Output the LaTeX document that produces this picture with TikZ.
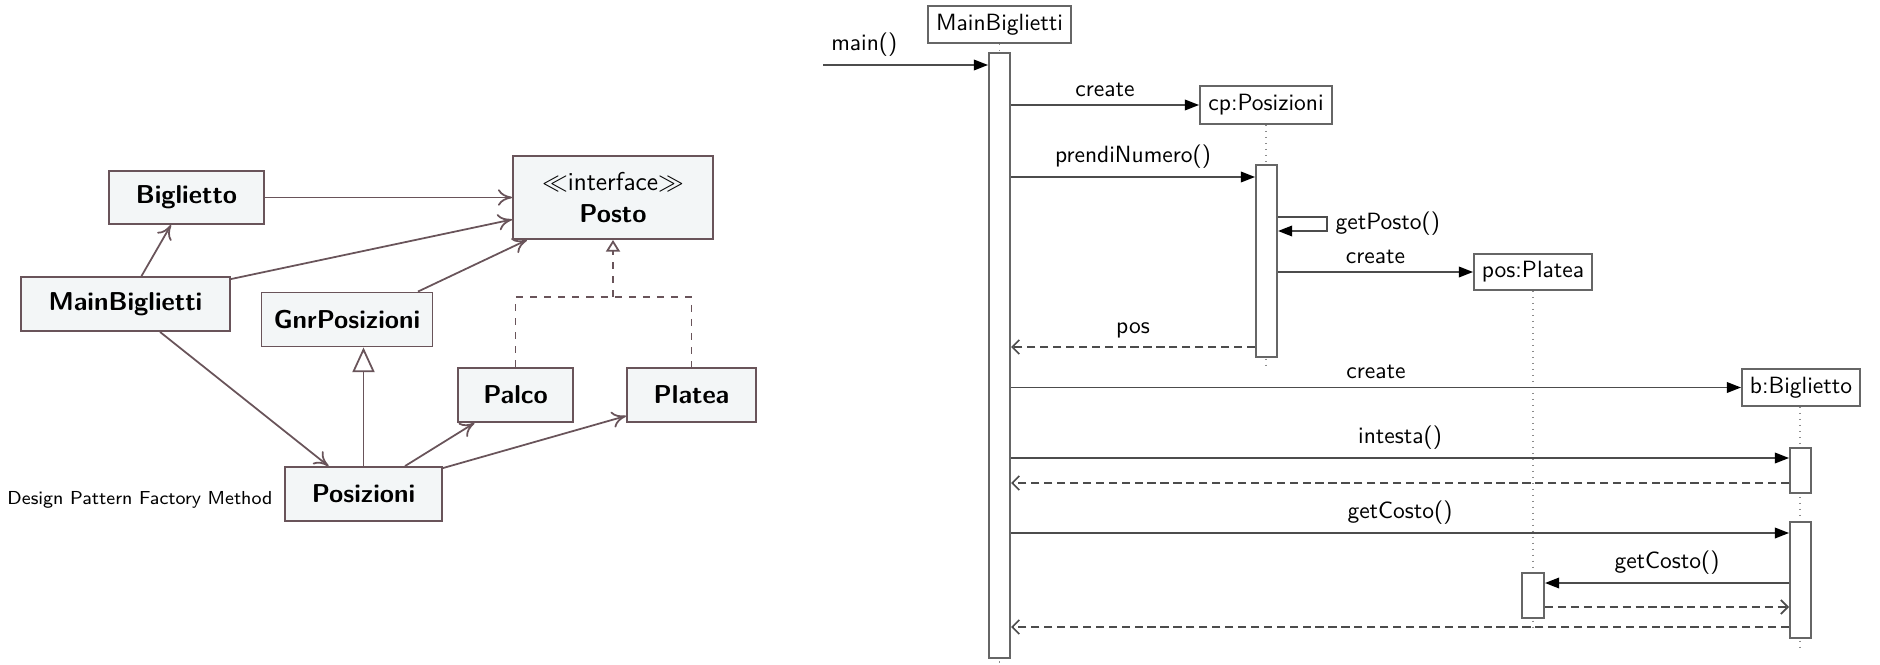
\documentclass[tikz,border=0pt]{standalone}
\usepackage{fontspec}
\usetikzlibrary{arrows.meta,calc}
\definecolor{umlline}{RGB}{105,84,90}
\definecolor{umlfill}{RGB}{243,246,247}
\newcommand\pxu{0.4255pt}
\begin{document}
\begin{tikzpicture}[x=\pxu, y=-\pxu,
  cls/.style={draw=umlline, fill=umlfill, line width=0.8pt, inner sep=0pt,
    font=\fontsize{11}{13.6}\selectfont\sffamily\bfseries, align=center},
  clsz/.style 2 args={minimum width=#1*\pxu, minimum height=#2*\pxu},
  assoc/.style={draw=umlline, line width=0.75pt,
    -{Computer Modern Rightarrow[length=6pt,width=7pt]}},
  inherit/.style={draw=umlline, line width=0.75pt,
    -{Triangle[open,length=10.5pt,width=9.4pt,fill=white]}},
  realize/.style={draw=umlline, line width=0.75pt, dashed},
  obj/.style={draw=black!60, line width=0.85pt, fill=white, inner sep=0pt,
    font=\fontsize{10}{12}\selectfont\sffamily},
  bar/.style={draw=black!60, line width=0.85pt, fill=white, inner sep=0pt,
    minimum width=21*\pxu},
  msg/.style={draw=black!70, line width=0.7pt,
    -{Triangle[length=6pt,width=4.5pt,color=black]}},
  ret/.style={draw=black!70, line width=0.7pt, dash pattern=on 3.5pt off 2pt,
    -{Straight Barb[length=3pt,width=6pt]}},
  life/.style={draw=black!45, line width=0.55pt, dotted},
  lbl/.style={font=\fontsize{10}{12}\selectfont\sffamily, text=black}
]
\useasboundingbox (0,0) rectangle (1880,664);

% ---------------- class diagram ----------------
\node[cls, clsz={155}{53}] (cBig) at (186.5,197.5) {Biglietto};
\node[cls, clsz={209}{54}] (cMain) at (125.5,304) {MainBiglietti};
\node[cls, clsz={200}{83}] (cPosto) at (613,197.5) {{\mdseries$\ll$interface$\gg$}\\Posto};
\node[cls, clsz={171}{54}] (cGnr) at (347,319.5) {GnrPosizioni};
\node[cls, clsz={115}{54}] (cPalco) at (515.5,395) {Palco};
\node[cls, clsz={129}{54}] (cPlatea) at (691.5,395) {Platea};
\node[cls, clsz={157}{54}] (cPos) at (363.5,494) {Posizioni};
\node[font=\fontsize{8}{10}\selectfont\sffamily, anchor=west, inner sep=0pt] (cap) at (7,500) {Design Pattern Factory Method};

\draw[assoc] (cBig.east) -- (cPosto.west);
\draw[assoc] ($(cMain.north east)+(0,3)$) -- ($(cPosto.west)+(0,22)$);
\draw[assoc] ($(cMain.north)+(16,0)$) -- ($(cBig.south)+(-15.5,0)$);
\draw[assoc] ($(cGnr.north)+(71,0)$) -- ($(cPosto.south west)+(15,0)$);
\draw[assoc] ($(cMain.south)+(34.5,0)$) -- ($(cPos.north)+(-35,0)$);
\draw[inherit] (cPos.north) -- (cPos.north |- cGnr.south);
\draw[assoc] ($(cPos.north)+(41.5,0)$) -- ($(cPalco.south)+(-41,0)$);
\draw[assoc] ($(cPos.north east)+(0,2)$) -- ($(cPlatea.south west)+(0,-7)$);
\coordinate (rj) at (613,297);
\draw[realize] (cPalco.north) -- (cPalco.north |- rj) -- (cPlatea.north |- rj) -- (cPlatea.north);
\draw[realize, -{Triangle[open,length=5pt,width=6pt,fill=white]}] (rj) -- (cPosto.south);

% ---------------- sequence diagram ----------------
\node[obj, minimum width=143*\pxu, minimum height=37*\pxu] (sMain) at (999.5,24.5) {MainBiglietti};
\node[obj, minimum width=132*\pxu, minimum height=38*\pxu] (sCp) at (1266,105) {cp:Posizioni};
\node[obj, minimum width=118*\pxu, minimum height=36*\pxu] (sPl) at (1533,272) {pos:Platea};
\node[obj, minimum width=118*\pxu, minimum height=37*\pxu] (sB) at (1801,387.5) {b:Biglietto};

% lifeline ends
\coordinate (eMain) at (999.5,663);
\coordinate (eCp) at (1266,366);
\coordinate (ePl) at (1533,628);
\coordinate (eB) at (1800,648);
\draw[life] (sMain.south) -- (sMain.south |- eMain);
\draw[life] (sCp.south) -- (sCp.south |- eCp);
\draw[life] (sPl.south) -- (sPl.south |- ePl);
\draw[life] ($(sB.south)+(-1,0)$) -- (eB);

% activation bars
\node[bar, minimum height=605*\pxu] (aMain) at (999.5,355.5) {};
\node[bar, minimum height=192*\pxu] (aCp) at (1266.5,261) {};
\node[bar, minimum height=45*\pxu] (aB1) at (1800.5,470.5) {};
\node[bar, minimum height=116*\pxu] (aB2) at (1800.5,580) {};
\node[bar, minimum width=22*\pxu, minimum height=45*\pxu] (aPl) at (1533,595.5) {};

% message rows
\coordinate (rMain) at (823,65);
\coordinate (r2) at (0,177);
\coordinate (r3) at (1327,217);
\coordinate (r3b) at (1327,231);
\coordinate (r4) at (0,347);
\coordinate (r5) at (0,458);
\coordinate (r6) at (0,483);
\coordinate (r7) at (0,533);
\coordinate (r8) at (0,583);
\coordinate (r9) at (0,607);
\coordinate (r10) at (0,627);

\draw[msg] (rMain) -- node[lbl, above, pos=0.25] {main()} (rMain -| aMain.west);
\draw[msg] (aMain.east |- sCp.west) -- node[lbl, above] {create} (sCp.west);
\draw[msg] (aMain.east |- r2) -- node[lbl, above] {prendiNumero()} (aCp.west |- r2);
\draw[msg] (aCp.east |- r3) -- (r3) -- node[lbl, right] {getPosto()} (r3b) -- (aCp.east |- r3b);
\draw[msg] (aCp.east |- sPl.west) -- node[lbl, above] {create} (sPl.west);
\draw[ret] (aCp.west |- r4) -- node[lbl, above] {pos} (aMain.east |- r4);
\draw[msg] (aMain.east |- sB.west) -- node[lbl, above] {create} (sB.west);
\draw[msg] (aMain.east |- r5) -- node[lbl, above] {intesta()} (aB1.west |- r5);
\draw[ret] (aB1.west |- r6) -- (aMain.east |- r6);
\draw[msg] (aMain.east |- r7) -- node[lbl, above] {getCosto()} (aB2.west |- r7);
\draw[msg] (aB2.west |- r8) -- node[lbl, above] {getCosto()} (aPl.east |- r8);
\draw[ret] (aPl.east |- r9) -- (aB2.west |- r9);
\draw[ret] (aB2.west |- r10) -- (aMain.east |- r10);
\end{tikzpicture}
\end{document}
